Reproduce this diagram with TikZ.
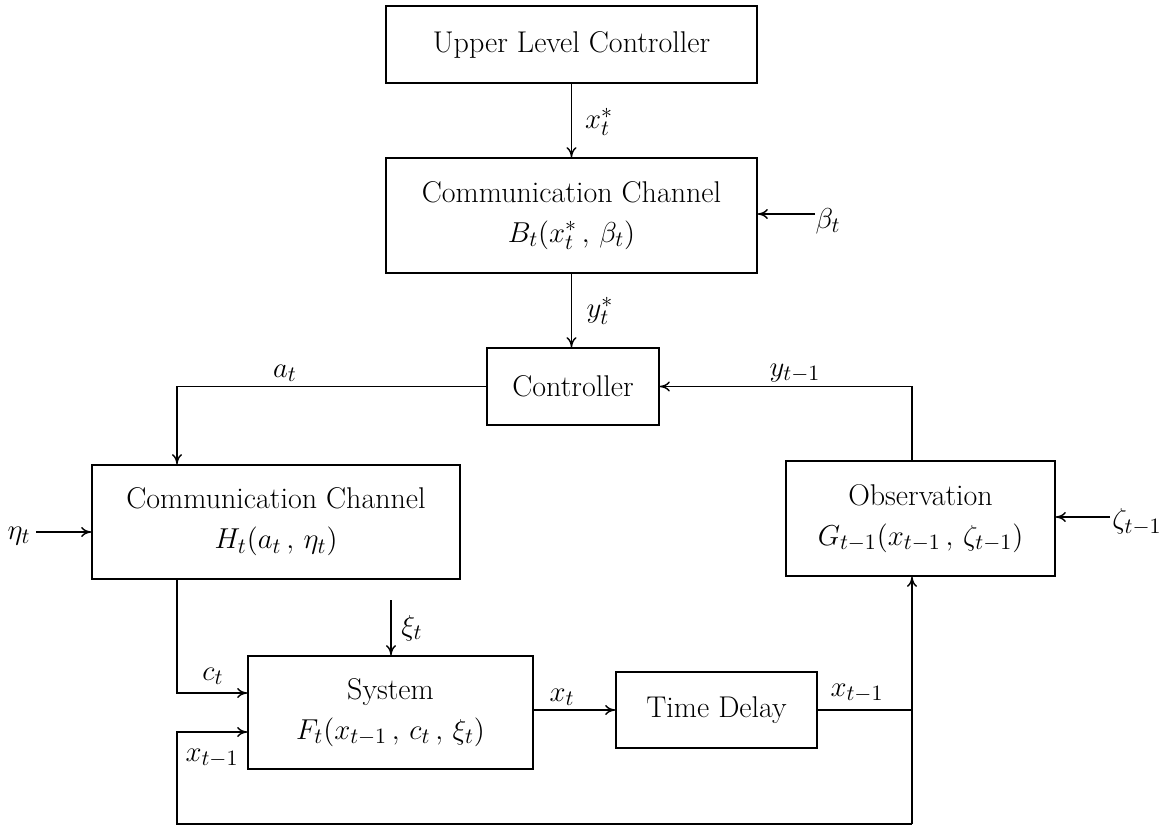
\documentclass[tikz,border=0pt]{standalone}
\usetikzlibrary{arrows.meta}
\begin{document}
\begin{tikzpicture}[x=0.5pt,y=-0.5pt]
\tikzset{
  blk/.style={draw, line width=0.8pt, inner sep=0pt, align=center, font=\fontsize{15}{20}\selectfont},
  lbl/.style={inner sep=0pt, font=\fontsize{15}{18}\selectfont},
  conn/.style={line width=0.7pt},
  arr/.style={conn, -{To[length=5pt,width=5pt]}}
}
\useasboundingbox (0,0) rectangle (1168,829);
% blocks
\node[blk, minimum width=185.5pt, minimum height=38.5pt] (ulc) at (571.5,44.5) {Upper Level Controller};
\node[blk, minimum width=185.5pt, minimum height=57.5pt] (cc1) at (571.5,215.5) {Communication Channel\\ $B_t(x_t^*\,,\,\beta_t)$};
\node[blk, minimum width=86pt, minimum height=38.5pt] (ctrl) at (573,386.5) {Controller};
\node[blk, minimum width=184pt, minimum height=57pt] (cc2) at (276,522) {Communication Channel\\ $H_t(a_t\,,\,\eta_t)$};
\node[blk, minimum width=134.5pt, minimum height=57.5pt] (obs) at (920.5,518.5) {Observation\\ $G_{t-1}(x_{t-1}\,,\,\zeta_{t-1})$};
\node[blk, minimum width=142.5pt, minimum height=56.5pt] (sys) at (390.5,712.5) {System\\ $F_t(x_{t-1}\,,\,c_t\,,\,\xi_t)$};
\node[blk, minimum width=100.5pt, minimum height=38pt] (td) at (716.5,710) {Time Delay};
% labels
\node[lbl] (xs) at (599,122) {$x_t^*$};
\node[lbl] (ys) at (600,311) {$y_t^*$};
\node[lbl] (beta) at (828,221) {$\beta_t$};
\node[lbl] (at) at (285,373) {$a_t$};
\node[lbl] (yl) at (795,373) {$y_{t-1}$};
\node[lbl] (eta) at (19,536) {$\eta_t$};
\node[lbl] (zeta) at (1137,522) {$\zeta_{t-1}$};
\node[lbl] (cl) at (213,676) {$c_t$};
\node[lbl] (xil) at (412,628) {$\xi_t$};
\node[lbl] (xtl) at (562,697) {$x_t$};
\node[lbl] (xr) at (857,693) {$x_{t-1}$};
\node[lbl] (xlft) at (212,758) {$x_{t-1}$};
% coordinates
\coordinate (bS) at (815,214);
\coordinate (aC) at (177,386.5);
\coordinate (yC) at (912,386.5);
\coordinate (eS) at (36,532);
\coordinate (zS) at (1110,517);
\coordinate (cC) at (177,693);
\coordinate (xiS) at (391,600);
\coordinate (fR) at (912,710);
\coordinate (fB) at (912,824);
\coordinate (fL) at (177,824);
\coordinate (fU) at (177,732);
% connectors
\draw[arr] (ulc.south) -- (cc1.north);
\draw[arr] (cc1.south) -- (cc1.south |- ctrl.north);
\draw[arr] (bS) -- (bS -| cc1.east);
\draw[arr] (ctrl.west) -- (aC) -- (aC |- cc2.north);
\draw[arr] (yC |- obs.north) -- (yC) -- (ctrl.east);
\draw[arr] (eS) -- (eS -| cc2.west);
\draw[arr] (zS) -- (zS -| obs.east);
\draw[arr] (cC |- cc2.south) -- (cC) -- (cC -| sys.west);
\draw[arr] (xiS) -- (xiS |- sys.north);
\draw[arr] (td.west -| sys.east) -- (td.west);
\draw[conn] (td.east) -- (fR);
\draw[arr] (fB) -- (fB |- obs.south);
\draw[arr] (fB) -- (fL) -- (fU) -- (fU -| sys.west);
\end{tikzpicture}
\end{document}
